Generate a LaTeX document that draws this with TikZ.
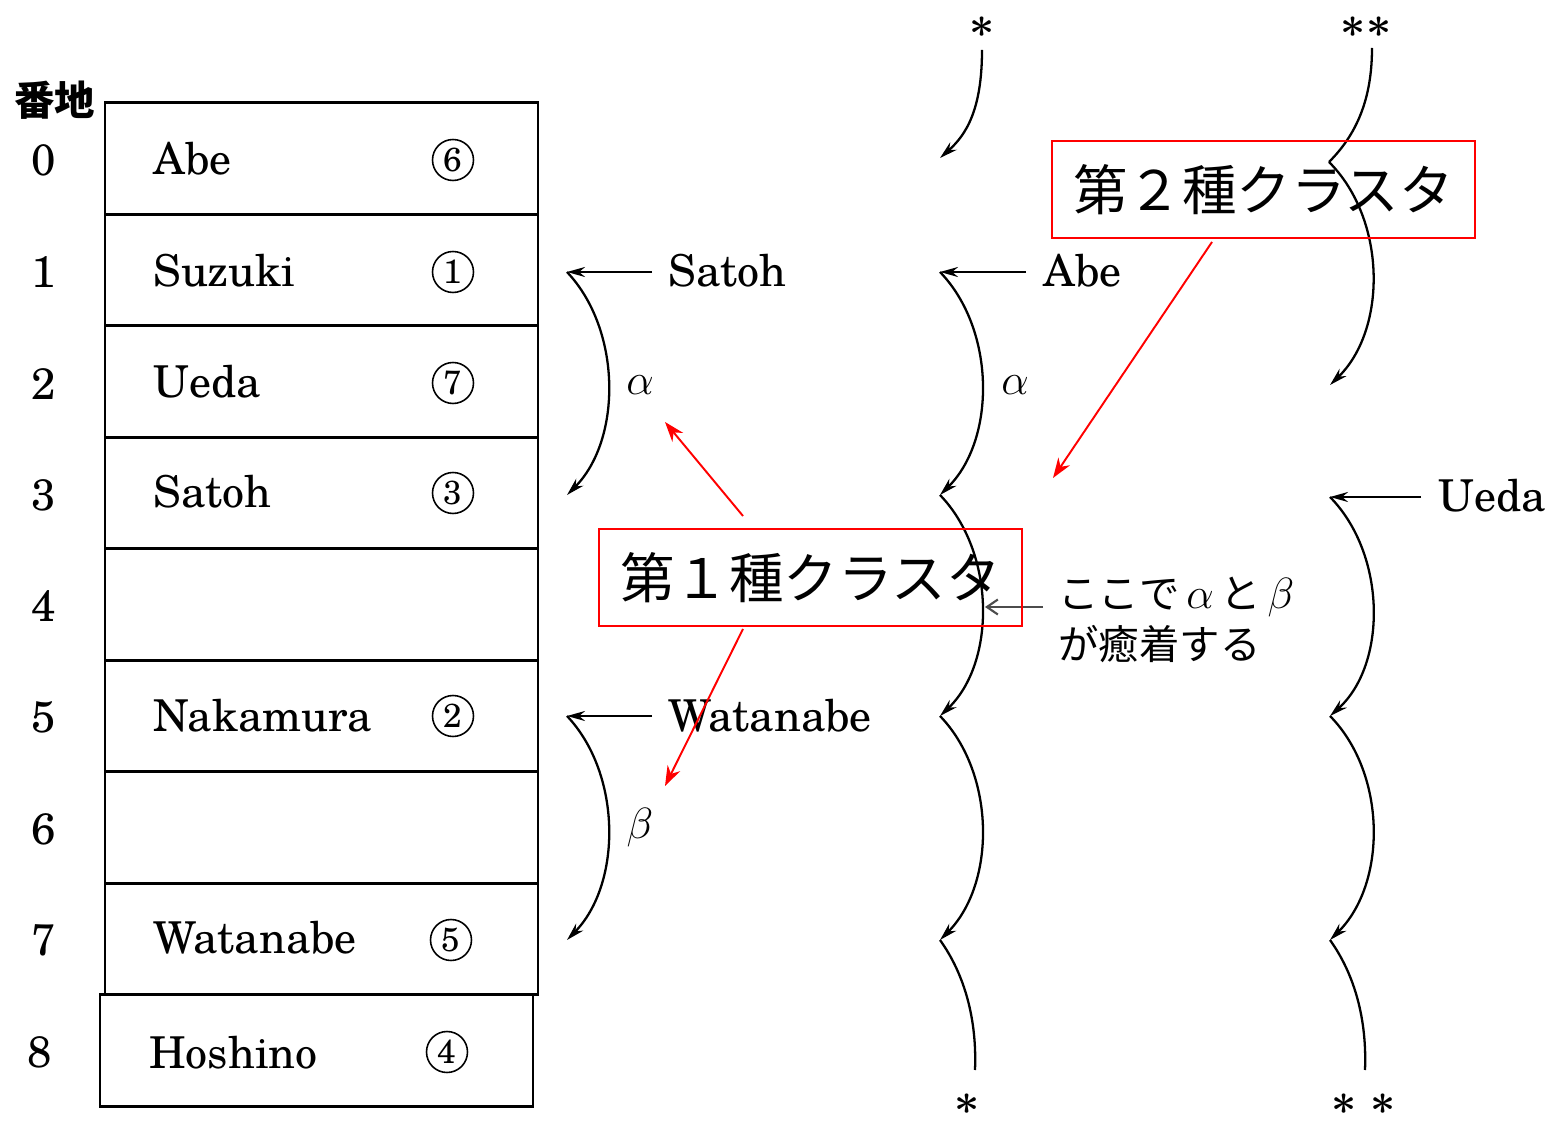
\documentclass[tikz,border=0pt]{standalone}
\usepackage{fontspec}
\newfontfamily\jp{Noto Sans CJK JP}
\newfontfamily\schola{texgyreschola}[Extension=.otf, UprightFont=*-regular, BoldFont=*-bold]
\usetikzlibrary{arrows.meta}
\begin{document}
\begin{tikzpicture}[x=0.02cm,y=-0.02cm,
  cellbox/.style={draw, line width=1.6pt, minimum width=8.66cm, minimum height=2.23cm, inner sep=0pt},
  namelbl/.style={anchor=base west, inner sep=0pt, font=\schola\fontsize{25}{30}\selectfont},
  addrlbl/.style={inner sep=0pt, font=\schola\fontsize{25}{30}\selectfont},
  circnum/.style={draw, circle, line width=0.9pt, minimum size=0.82cm, inner sep=0pt, font=\schola\fontsize{19}{19}\selectfont},
  chainln/.style={line width=1.3pt},
  arrln/.style={line width=1.3pt, -{Stealth[length=0.36cm,width=0.2cm]}},
  keylbl/.style={anchor=base west, inner sep=0pt, font=\schola\fontsize{25}{30}\selectfont},
  greeklbl/.style={inner sep=0pt, font=\fontsize{26}{30}\selectfont},
  starlbl/.style={inner sep=0pt, font=\boldmath\fontsize{36}{36}\selectfont},
  redbox/.style={draw=red, line width=1.1pt, minimum width=8.46cm, minimum height=1.94cm, inner sep=0pt, font=\jp\fontsize{31}{31}\selectfont},
  redarr/.style={draw=red, line width=1.1pt, -{Stealth[length=0.4cm,width=0.28cm]}}
]
\useasboundingbox (0,0) rectangle (1559,1121);

% table
\node[cellbox] (c0) at (321.5,158.5) {};
\node[cellbox] (c1) at (321.5,270) {};
\node[cellbox] (c2) at (321.5,381.5) {};
\node[cellbox] (c3) at (321.5,493) {};
\node[cellbox] (c4) at (321.5,604.5) {};
\node[cellbox] (c5) at (321.5,716) {};
\node[cellbox] (c6) at (321.5,827.5) {};
\node[cellbox] (c7) at (321.5,939) {};
\node[cellbox] (c8) at (316.5,1050.5) {};

\node[inner sep=0pt, font=\jp\bfseries\fontsize{23}{23}\selectfont] (banchi) at (55,100) {番地};
\node[addrlbl] (a0) at (44,160) {0};
\node[addrlbl] (a1) at (44,272) {1};
\node[addrlbl] (a2) at (44,384) {2};
\node[addrlbl] (a3) at (44,495) {3};
\node[addrlbl] (a4) at (44,606) {4};
\node[addrlbl] (a5) at (44,717) {5};
\node[addrlbl] (a6) at (44,829) {6};
\node[addrlbl] (a7) at (44,940) {7};
\node[addrlbl] (a8) at (40,1052) {8};

\node[namelbl] (n0) at (153,175) {Abe};
\node[namelbl] (n1) at (153,287) {Suzuki};
\node[namelbl] (n2) at (153,398) {Ueda};
\node[namelbl] (n3) at (153,508) {Satoh};
\node[namelbl] (n5) at (153,731) {Nakamura};
\node[namelbl] (n7) at (153,953) {Watanabe};
\node[namelbl] (n8) at (149,1068) {Hoshino};

\node[circnum] (o0) at (453,160) {6};
\node[circnum] (o1) at (453,272) {1};
\node[circnum] (o2) at (453,383) {7};
\node[circnum] (o3) at (453,493) {3};
\node[circnum] (o5) at (453,716) {2};
\node[circnum] (o7) at (451,940) {5};
\node[circnum] (o8) at (447,1052) {4};

% left chains
\coordinate (k1) at (567,272);
\coordinate (k2) at (567,495);
\coordinate (k3) at (567,716);
\coordinate (k4) at (567,940);
\coordinate (t1) at (652,272);
\coordinate (t3) at (652,716);
\node[keylbl] (satoh) at (668,287) {Satoh};
\node[keylbl] (watanabe) at (668,731) {Watanabe};
\draw[arrln] (t1) -- (k1);
\draw[arrln] (t3) -- (k3);
\draw[arrln] (k1) .. controls (622,330) and (622,440) .. (k2);
\draw[arrln] (k3) .. controls (622,774) and (622,884) .. (k4);
\node[greeklbl] (alpha1) at (640,385) {$\alpha$};
\node[greeklbl] (beta1) at (640,828) {$\beta$};

% middle chain
\node[starlbl, anchor=base] (s1) at (982,38) {\smash{$\ast$}};
\coordinate (ms) at (982,50);
\coordinate (m0) at (940,158);
\coordinate (m1) at (940,272);
\coordinate (m2) at (940,495);
\coordinate (m3) at (940,716);
\coordinate (m4) at (940,940);
\coordinate (me) at (975,1070);
\coordinate (mt) at (1026,272);
\node[keylbl] (abe) at (1043,287) {Abe};
\draw[arrln] (ms) .. controls (982,110) and (966,135) .. (m0);
\draw[arrln] (mt) -- (m1);
\draw[arrln] (m1) .. controls (996,330) and (996,440) .. (m2);
\draw[arrln] (m2) .. controls (996,553) and (996,663) .. (m3);
\draw[arrln] (m3) .. controls (996,774) and (996,884) .. (m4);
\draw[chainln] (m4) .. controls (965,975) and (977,1020) .. (me);
\node[greeklbl] (alpha2) at (1015,385) {$\alpha$};
\node[starlbl] (s2) at (967,1104) {$\ast$};

% right chain
\node[starlbl, anchor=base] (ss1) at (1366,38) {\smash{$\ast\ast$}};
\coordinate (rs) at (1372,48);
\coordinate (r0) at (1329,162);
\coordinate (r2) at (1330,385);
\coordinate (r3) at (1330,497);
\coordinate (r4) at (1330,716);
\coordinate (r5) at (1330,940);
\coordinate (re) at (1365,1070);
\coordinate (rt) at (1421,497);
\node[keylbl] (ueda) at (1438,512) {Ueda};
\draw[chainln] (rs) .. controls (1372,100) and (1356,135) .. (r0);
\draw[arrln] (r0) .. controls (1387,220) and (1387,330) .. (r2);
\draw[arrln] (rt) -- (r3);
\draw[arrln] (r3) .. controls (1387,555) and (1387,665) .. (r4);
\draw[arrln] (r4) .. controls (1387,774) and (1387,884) .. (r5);
\draw[chainln] (r5) .. controls (1355,975) and (1367,1020) .. (re);
\node[starlbl] (ss2) at (1364,1104) {$\ast\;\ast$};

% adhesion note
\node[anchor=west, align=left, inner sep=0pt, font=\jp\fontsize{23}{29.5}\selectfont] (note) at (1058,620) {ここで\,$\alpha$\,と\,$\beta$\\が癒着する};
\coordinate (nt) at (1043,607);
\coordinate (nh) at (985,607);
\draw[line width=1.2pt, black!70, -{Straight Barb[length=0.22cm,width=0.3cm]}] (nt) -- (nh);

% red boxes and arrows
\node[redbox] (box1) at (810.5,577.5) {第１種クラスタ};
\node[redbox] (box2) at (1263.5,189.5) {第２種クラスタ};
\coordinate (ra1s) at (743,516);
\coordinate (ra1e) at (665,422);
\coordinate (ra2s) at (743,629);
\coordinate (ra2e) at (665,786);
\coordinate (ra3s) at (1212,242);
\coordinate (ra3e) at (1053,478);
\draw[redarr] (ra1s) -- (ra1e);
\draw[redarr] (ra2s) -- (ra2e);
\draw[redarr] (ra3s) -- (ra3e);
\end{tikzpicture}
\end{document}
